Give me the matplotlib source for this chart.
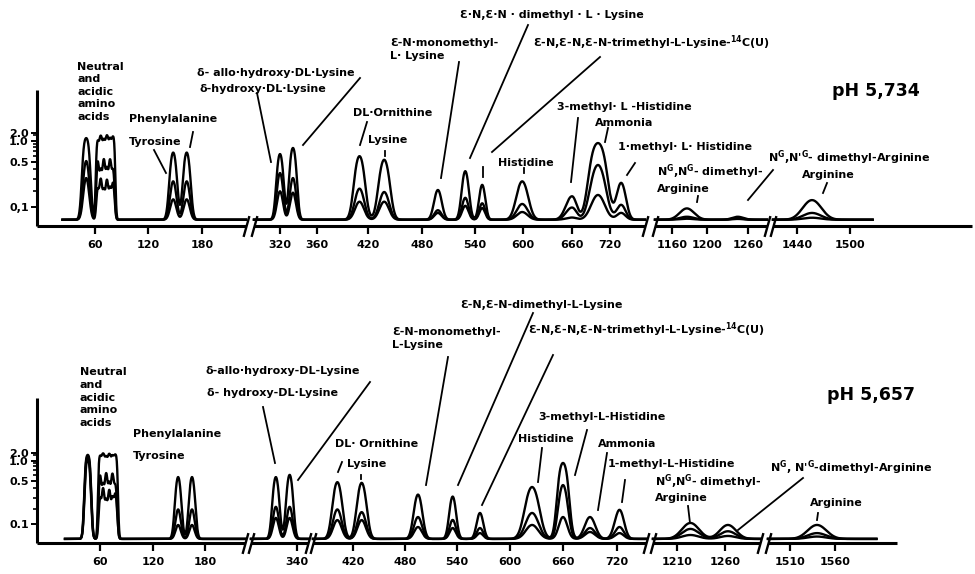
import numpy as np
import matplotlib
matplotlib.use("Agg")
import matplotlib.pyplot as plt
from matplotlib.path import Path
from matplotlib.lines import Line2D

plt.rcParams["font.family"] = ["DejaVu Sans"]
plt.rcParams["font.weight"] = "bold"
plt.rcParams["mathtext.fontset"] = "custom"
plt.rcParams["mathtext.rm"] = "DejaVu Sans:bold"
plt.rcParams["mathtext.it"] = "DejaVu Sans:bold"
plt.rcParams["mathtext.bf"] = "DejaVu Sans:bold"

# ---------------- pH 5,734 (upper run) ----------------
# peak position (ml effluent), peak sd (ml) and peak height (extinction
# above baseline) for the three sample loads
top_ml = [50, 63, 66.5, 70, 73.5, 77, 80.5, 148, 163, 320, 334, 410, 438,
          498, 529, 549, 599, 660, 701, 736, 1177, 1245, 1457]
top_sd = [3, 1.4, 1.4, 1.4, 1.4, 1.4, 1.5, 3.2, 3.2, 3, 3, 5, 5,
          4, 3.5, 3.5, 6.5, 7, 10, 6, 8, 8, 10]
top_high = [1.16, 0.95, 1.3, 1.0, 1.35, 1.05, 1.25, 0.63, 0.63, 0.60, 0.74, 0.56, 0.50,
            0.18, 0.35, 0.22, 0.25, 0.135, 0.90, 0.235, 0.06, 0.015, 0.11]
top_mid = [0.48, 0.46, 0.34, 0.48, 0.36, 0.47, 0.35, 0.25, 0.25, 0.33, 0.28, 0.19, 0.165,
           0.05, 0.125, 0.09, 0.086, 0.065, 0.425, 0.08, 0.015, 0.008, 0.035]
top_low = [0.28, 0.18, 0.26, 0.17, 0.25, 0.18, 0.23, 0.115, 0.115, 0.17, 0.16, 0.10, 0.10,
           0.035, 0.075, 0.062, 0.04, 0.011, 0.144, 0.035, 0.005, 0.004, 0.01]
top_base = 0.03
top_run = (23, 1526)
top_ticks = [60, 120, 180, 320, 360, 420, 480, 540, 600, 660, 720, 1160, 1200, 1260, 1440, 1500]

# ---------------- pH 5,657 (lower run) ----------------
bot_ml = [46, 60, 63.5, 67, 70.5, 74, 77.5, 149, 165, 317, 332, 402, 430,
          495, 535, 566, 625, 660, 690, 723, 1224, 1263, 1540]
bot_sd = [2.3, 1.4, 1.4, 1.4, 1.4, 1.4, 1.6, 2.9, 2.9, 3, 3, 4.6, 4.6,
          4.3, 3.5, 3.5, 6.8, 4.5, 5.5, 5, 8.5, 8, 10]
bot_high = [1.48, 1.3, 1.7, 1.2, 1.6, 1.25, 1.5, 0.54, 0.54, 0.54, 0.58, 0.46, 0.45,
            0.31, 0.29, 0.154, 0.395, 0.90, 0.126, 0.177, 0.088, 0.076, 0.076]
bot_mid = [1.3, 0.55, 0.40, 0.58, 0.42, 0.55, 0.40, 0.18, 0.18, 0.20, 0.20, 0.18, 0.16,
           0.126, 0.107, 0.058, 0.154, 0.42, 0.058, 0.064, 0.053, 0.04, 0.03]
bot_low = [1.1, 0.26, 0.36, 0.24, 0.34, 0.25, 0.31, 0.076, 0.076, 0.12, 0.12, 0.106, 0.106,
           0.064, 0.058, 0.03, 0.076, 0.126, 0.036, 0.03, 0.02, 0.015, 0.012]
bot_base = 0.02
bot_run = (20, 1607)
bot_ticks = [60, 120, 180, 340, 420, 480, 540, 600, 660, 720, 1210, 1260, 1510, 1560]

# ---------------- layout (figure pixels) ----------------
W, H = 975, 574
# broken ml axis: knots ml -> pixel
top_knot_ml = [-6, 60, 120, 180, 230, 292, 320, 360, 420, 480, 540, 600, 660, 720, 770,
               1140, 1160, 1200, 1260, 1285, 1412, 1440, 1500, 1639]
top_knot_px = [37, 95, 148, 202, 246, 254, 280, 317, 368, 422, 475, 523, 572, 610, 645,
               655, 672, 707, 748, 767, 773, 797, 850, 972]
top_segs = [(-6, 230), (292, 770), (1140, 1285), (1412, 1639)]
bot_knot_ml = [-12, 60, 120, 180, 225, 290, 340, 352, 374, 420, 480, 540, 600, 660, 720, 755,
               1185, 1210, 1260, 1296, 1486, 1510, 1560, 1630]
bot_knot_px = [37, 100, 153, 205, 245, 251, 297, 308, 313, 353, 405, 457, 510, 563, 617, 646,
               653, 677, 725, 760, 768, 790, 835, 897]
bot_segs = [(-12, 225), (290, 352), (374, 755), (1185, 1296), (1486, 1630)]

top_text = [("Neutral", 77, 67), ("and", 77, 79), ("acidic", 77, 92), ("amino", 77, 104),
            ("acids", 77, 117), ("Phenylalanine", 129, 119), ("Tyrosine", 129, 142),
            ("δ- allo·hydroxy·DL·Lysine", 197, 73), ("δ-hydroxy·DL·Lysine", 199, 89),
            ("DL·Ornithine", 353, 113), ("Lysine", 368, 140),
            ("Ɛ-N·monomethyl-", 390, 43), ("L· Lysine", 390, 56),
            ("Ɛ·N,Ɛ·N · dimethyl · L · Lysine", 460, 15),
            ("Ɛ-N,Ɛ-N,Ɛ-N-trimethyl-L-Lysine-$^{14}$C(U)", 533, 43),
            ("Histidine", 498, 163), ("3-methyl· L -Histidine", 557, 107),
            ("Ammonia", 595, 123), ("1·methyl· L· Histidine", 618, 147),
            ("N$^{G}$,N$^{G}$- dimethyl-", 657, 172), ("Arginine", 657, 189),
            ("N$^{G}$,N'$^{G}$- dimethyl-Arginine", 768, 158), ("Arginine", 802, 175)]
top_leaders = [(154, 150, 166, 173), (193, 132, 190, 147), (257, 93, 271, 162),
               (360, 78, 303, 145), (367, 122, 360, 145), (385, 151, 385, 156),
               (459, 62, 441, 178), (528, 25, 470, 158), (600, 57, 492, 152),
               (483, 167, 483, 177), (524, 168, 524, 173), (578, 118, 571, 182),
               (608, 128, 605, 142), (635, 163, 627, 175), (698, 196, 697, 202),
               (773, 170, 748, 200), (827, 183, 823, 193)]
bot_text = [("Neutral", 80, 372), ("and", 80, 385), ("acidic", 80, 398), ("amino", 80, 410),
            ("acids", 80, 423), ("Phenylalanine", 133, 434), ("Tyrosine", 133, 456),
            ("δ-allo·hydroxy-DL-Lysine", 205, 371), ("δ- hydroxy-DL·Lysine", 207, 393),
            ("DL· Ornithine", 335, 444), ("Lysine", 347, 464),
            ("Ɛ-N-monomethyl-", 392, 332), ("L-Lysine", 392, 345),
            ("Ɛ-N,Ɛ-N-dimethyl-L-Lysine", 460, 305),
            ("Ɛ-N,Ɛ-N,Ɛ-N-trimethyl-L-Lysine-$^{14}$C(U)", 528, 330),
            ("Histidine", 518, 439), ("3-methyl-L-Histidine", 538, 417),
            ("Ammonia", 598, 444), ("1-methyl-L-Histidine", 608, 464),
            ("N$^{G}$,N$^{G}$- dimethyl-", 655, 482), ("Arginine", 655, 498),
            ("N$^{G}$, N'$^{G}$-dimethyl-Arginine", 770, 468), ("Arginine", 810, 503)]
bot_leaders = [(263, 407, 275, 463), (370, 382, 298, 480), (342, 462, 338, 472),
               (361, 475, 361, 479), (448, 357, 426, 485), (533, 313, 458, 485),
               (553, 355, 482, 505), (542, 448, 538, 482), (587, 430, 575, 475),
               (607, 453, 598, 510), (625, 480, 622, 502), (688, 506, 690, 523),
               (803, 478, 738, 530), (818, 513, 817, 520)]


def e_to_t(e):
    # chart paper is linear in absorbed light, labelled in extinction
    return 1 - 10.0 ** (-np.asarray(e, dtype=float))


def t_to_e(t):
    t = np.clip(np.asarray(t, dtype=float), None, 1 - 1e-9)
    return -np.log10(1 - t)


def trace(ml, centre, sd, height, base):
    e = np.full_like(ml, base)
    for c, s, h in zip(centre, sd, height):
        e += h * np.exp(-0.5 * ((ml - c) / s) ** 2)
    return e


slash = Path([(-0.28, -1), (0.28, 1)], [Path.MOVETO, Path.LINETO])

fig = plt.figure(figsize=(W / 100, H / 100), dpi=100)


def panel(axis_y, k, knot_ml, knot_px, segs, run, ml_c, sd, loads, base, ticks,
          y0_label, spine_top, right_px):
    left, right = knot_px[0], right_px
    ax = fig.add_axes([left / W, 1 - axis_y / H, (right - left) / W, k * e_to_t(2.5) / H])
    ax.set_xscale("function", functions=(lambda v: np.interp(v, knot_ml, knot_px),
                                         lambda p: np.interp(p, knot_px, knot_ml)))
    ax.set_yscale("function", functions=(e_to_t, t_to_e))
    ax.set_xlim(knot_ml[0], knot_ml[-1])
    ax.set_ylim(0, 2.5)

    ml = np.arange(run[0], run[1], 0.25)
    inside = np.zeros_like(ml, dtype=bool)
    for a, b in segs:
        inside |= (ml >= a) & (ml <= b)
    for h in loads:
        e = trace(ml, ml_c, sd, h, base)
        e[~inside] = np.nan
        ax.plot(ml, e, color="black", lw=1.7, solid_joinstyle="round")

    # broken x axis
    for a, b in segs:
        ax.plot([a, b], [0, 0], color="black", lw=2.2, clip_on=False, solid_capstyle="butt")
    breaks = [s[1] for s in segs[:-1]] + [s[0] for s in segs[1:]]
    ax.plot(breaks, np.zeros(len(breaks)), ls="none", marker=slash, ms=15, mew=1.7,
            color="black", clip_on=False)
    ax.plot([0, 0], [0, spine_top], transform=ax.transAxes, color="black", lw=2.2,
            clip_on=False, solid_capstyle="butt")
    for s in ax.spines.values():
        s.set_visible(False)

    ax.set_xticks(ticks)
    ax.set_xticklabels([str(t) for t in ticks])
    ax.set_xticks([], minor=True)
    ax.set_yticks([0.1, 0.5, 1.0, 2.0])
    ax.set_yticklabels([y0_label, "0.5", "1.0", "2.0"])
    ax.set_yticks([0.2, 0.3, 0.4, 0.6, 0.7, 0.8, 0.9, 1.5], minor=True)
    ax.tick_params(axis="x", direction="out", length=6, width=1.6, pad=4, labelsize=8)
    ax.tick_params(axis="y", which="major", direction="out", length=4, width=1.4, pad=2,
                   labelsize=8)
    ax.tick_params(axis="y", which="minor", direction="out", length=3, width=1.2)
    ax.patch.set_alpha(0)
    return ax


panel(226, 94, top_knot_ml, top_knot_px, top_segs, top_run, top_ml, top_sd,
      [top_high, top_mid, top_low], top_base, top_ticks, "0,1", 1.45, 972)
panel(543, 91, bot_knot_ml, bot_knot_px, bot_segs, bot_run, bot_ml, bot_sd,
      [bot_high, bot_mid, bot_low], bot_base, bot_ticks, "0.1", 1.6, 897)

for items, leaders in ((top_text, top_leaders), (bot_text, bot_leaders)):
    for s, x, y in items:
        fig.text(x / W, 1 - y / H, s, ha="left", va="center", fontsize=8, fontweight="bold")
    for x0, y0, x1, y1 in leaders:
        fig.add_artist(Line2D([x0 / W, x1 / W], [1 - y0 / H, 1 - y1 / H],
                              transform=fig.transFigure, color="black", lw=1.3))

fig.text(832 / W, 1 - 91 / H, "pH 5,734", ha="left", va="center", fontsize=12.5,
         fontweight="bold")
fig.text(827 / W, 1 - 395 / H, "pH 5,657", ha="left", va="center", fontsize=12.5,
         fontweight="bold")

fig.savefig("out.png", dpi=100, facecolor="white")
